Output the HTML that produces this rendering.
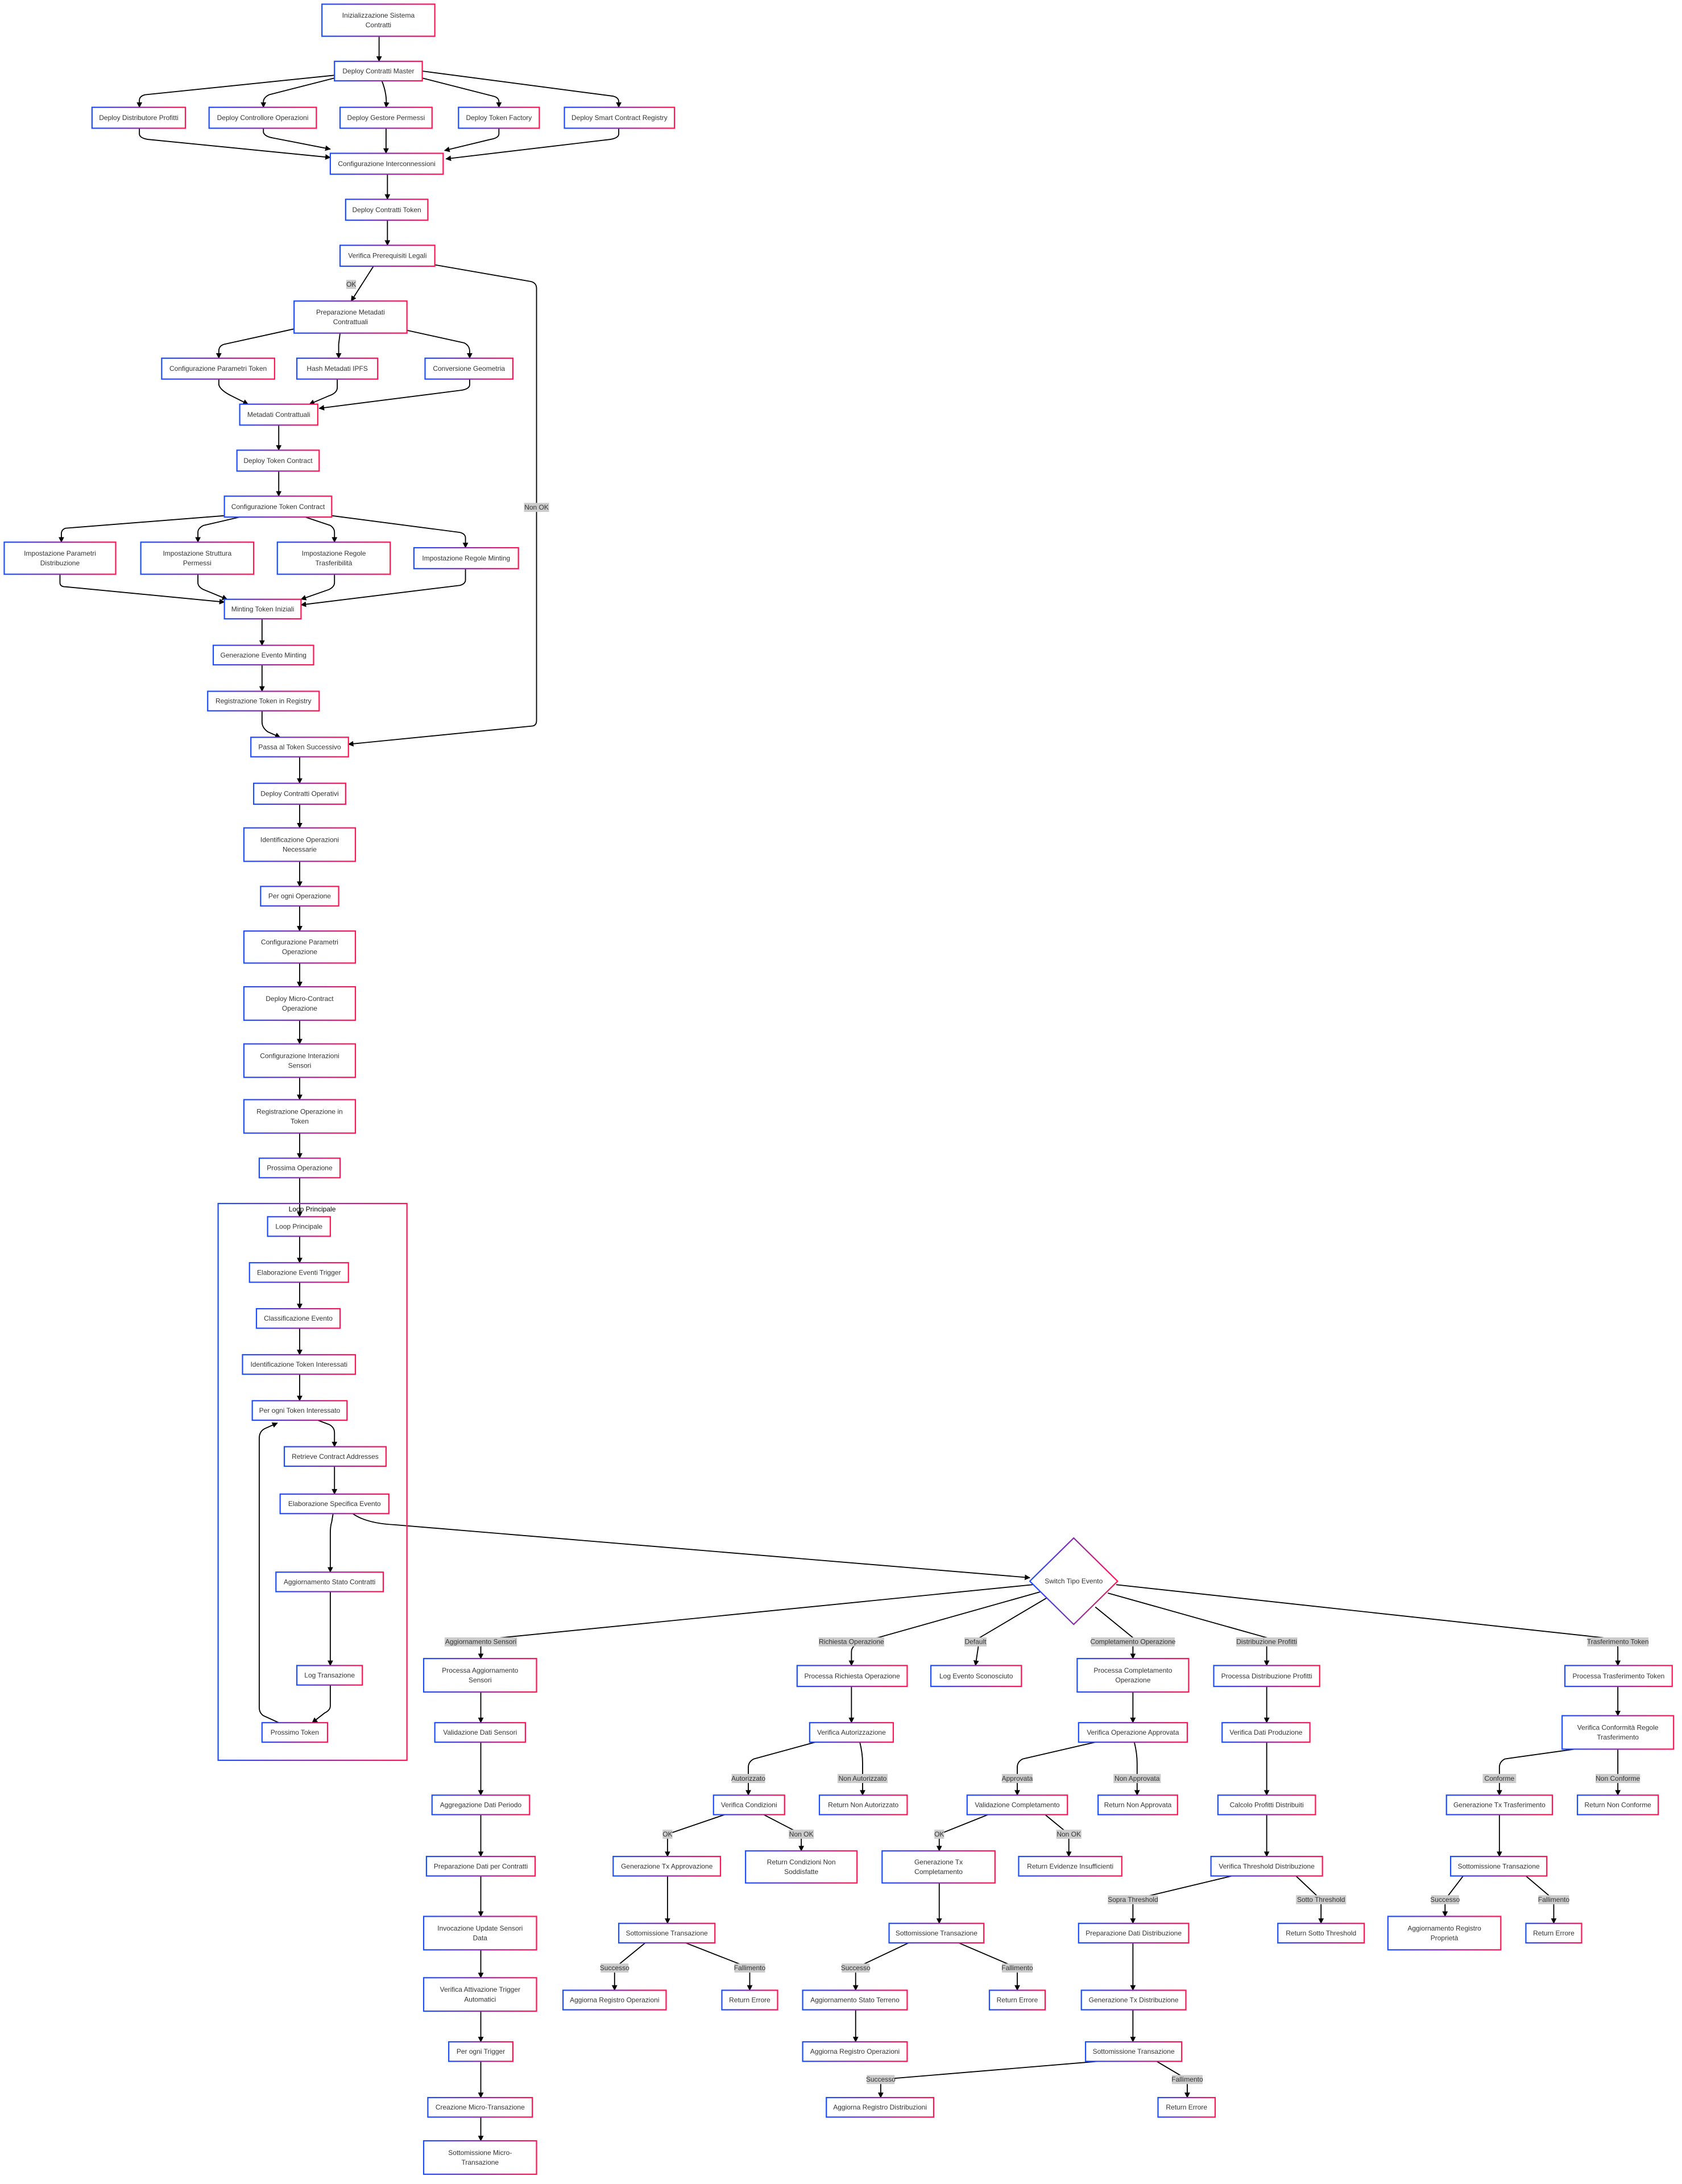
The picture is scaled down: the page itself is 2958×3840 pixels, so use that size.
<!DOCTYPE html>
<html><head><meta charset="utf-8"><style>
html,body{margin:0;padding:0;background:#fff;}
svg{display:block;}
.n{fill:#fff;stroke:url(#g);stroke-width:0.9;}
text{font-family:"Liberation Sans",sans-serif;font-size:4.9px;fill:#333;text-anchor:middle;dominant-baseline:central;}
.e{fill:none;stroke:#000;stroke-width:0.75;marker-end:url(#a);}
.lb{fill:#cccccc;}
</style></head><body>
<svg width="2958" height="3840" viewBox="0 0 1207 1567" xmlns="http://www.w3.org/2000/svg">
<defs>
<linearGradient id="g" x1="0" y1="0" x2="1" y2="0"><stop offset="0" stop-color="#1a4dff"/><stop offset="0.5" stop-color="#8a2aa8"/><stop offset="1" stop-color="#ff1452"/></linearGradient>
<marker id="a" markerUnits="userSpaceOnUse" markerWidth="4" markerHeight="4" refX="3.6" refY="2" orient="auto"><path d="M0,0 L4,2 L0,4 z" fill="#000"/></marker>
</defs>

<!-- edges -->
<path class="e" d="M272,26 L272,44"/>
<path class="e" d="M240,54 L104,68 Q100,69 100,72 L100,77"/>
<path class="e" d="M240,56 L193,68 Q189,70 189,73 L189,77"/>
<path class="e" d="M274,58 Q278,68 277,77"/>
<path class="e" d="M303,56 L354,69 Q358,70 358,73 L358,77"/>
<path class="e" d="M303,51 L440,69 Q444,70 444,73 L444,77"/>
<path class="e" d="M100,92 L100,96 Q100,99 106,100 L237,113"/>
<path class="e" d="M189,92 L189,95 Q190,98 196,99 L237,107"/>
<path class="e" d="M277,92 L277,110"/>
<path class="e" d="M358,92 L358,96 Q358,99 352,100 L319,108"/>
<path class="e" d="M444,92 L444,96 Q444,99 438,100 L320,114"/>
<path class="e" d="M278,125 L278,143"/>
<path class="e" d="M278,158 L278,176"/>
<path class="e" d="M268,191 L252,216"/>
<path class="e" d="M312,190 L381,202 Q385,203 385,207 L385,517 Q385,521 381,521 L250,534"/>
<path class="e" d="M211,236 L161,247 Q157,248 157,252 L157,257"/>
<path class="e" d="M244,239 L243,247 L243,257"/>
<path class="e" d="M292,237 L333,246 Q337,248 337,252 L337,257"/>
<path class="e" d="M157,272 L157,276 Q158,280 166,284 L178,290"/>
<path class="e" d="M242,272 L242,278 Q242,282 236,284 L222,290"/>
<path class="e" d="M337,272 L337,276 Q337,279 331,280 L229,293"/>
<path class="e" d="M200,305 L200,323"/>
<path class="e" d="M200,338 L200,356"/>
<path class="e" d="M161,370 L47,379 Q44,380 44,383 L44,389"/>
<path class="e" d="M172,371 L146,377 Q142,379 142,382 L142,389"/>
<path class="e" d="M219,371 L237,377 Q240,379 240,382 L240,389"/>
<path class="e" d="M238,370 L330,382 Q334,383 334,386 L334,393"/>
<path class="e" d="M43,412 L43,418 Q43,421 47,421 L161,432"/>
<path class="e" d="M142,412 L142,418 Q142,421 146,423 L163,430"/>
<path class="e" d="M240,412 L240,418 Q240,421 236,423 L216,430"/>
<path class="e" d="M334,408 L334,416 Q334,419 330,420 L216,434"/>
<path class="e" d="M188,444 L188,463"/>
<path class="e" d="M188,477 L188,496"/>
<path class="e" d="M188,510 L188,518 Q188,522 192,525 L201,529"/>
<path class="e" d="M215,543 L215,562"/>
<path class="e" d="M215,577 L215,594"/>
<path class="e" d="M215,618 L215,636"/>
<path class="e" d="M215,650 L215,668"/>
<path class="e" d="M215,691 L215,708"/>
<path class="e" d="M215,732 L215,749"/>
<path class="e" d="M215,773 L215,789"/>
<path class="e" d="M215,813 L215,831"/>
<path class="e" d="M215,845 L215,873"/>
<path class="e" d="M215,887 L215,906"/>
<path class="e" d="M215,920 L215,939"/>
<path class="e" d="M215,953 L215,972"/>
<path class="e" d="M215,986 L215,1005"/>
<path class="e" d="M228,1019 L236,1022 Q240,1024 240,1028 L240,1038"/>
<path class="e" d="M240,1052 L240,1072"/>
<path class="e" d="M239,1086 L238,1092 Q237,1095 237,1100 L237,1128"/>
<path class="e" d="M237,1142 L237,1195"/>
<path class="e" d="M237,1209 L237,1224 Q237,1227 233,1229 L224,1236"/>
<path class="e" d="M200,1236 L189,1231 Q186,1229 186,1225 L186,1032 Q186,1027 190,1025 L199,1021"/>
<path class="e" d="M253,1086 Q263,1093 283,1094 L739,1132"/>
<path class="e" d="M741,1137 L360,1175 Q345,1177 345,1182 L345,1190"/>
<path class="e" d="M747,1142 L630,1175 Q611,1178 611,1185 L611,1195"/>
<path class="e" d="M752,1146 L703,1175 L700,1195"/>
<path class="e" d="M786,1153 L813,1175 L813,1190"/>
<path class="e" d="M795,1143 L909,1175 L909,1195"/>
<path class="e" d="M801,1137 L1150,1175 Q1161,1177 1161,1182 L1161,1195"/>
<!-- sensori -->
<path class="e" d="M345,1214 L345,1236"/>
<path class="e" d="M345,1250 L345,1288"/>
<path class="e" d="M345,1302 L345,1332"/>
<path class="e" d="M345,1346 L345,1375"/>
<path class="e" d="M345,1399 L345,1419"/>
<path class="e" d="M345,1443 L345,1465"/>
<path class="e" d="M345,1479 L345,1505"/>
<path class="e" d="M345,1519 L345,1536"/>
<!-- richiesta -->
<path class="e" d="M611,1210 L611,1236"/>
<path class="e" d="M585,1250 L541,1262 Q537,1264 537,1268 L537,1288"/>
<path class="e" d="M617,1250 Q619,1258 619,1265 L619,1288"/>
<path class="e" d="M520,1302 L479,1316 L479,1332"/>
<path class="e" d="M548,1302 L575,1316 L575,1328"/>
<path class="e" d="M479,1346 L479,1380"/>
<path class="e" d="M463,1394 L441,1412 L441,1428"/>
<path class="e" d="M492,1394 L538,1412 L538,1428"/>
<!-- completamento -->
<path class="e" d="M813,1214 L813,1236"/>
<path class="e" d="M786,1250 L734,1262 Q730,1264 730,1268 L730,1288"/>
<path class="e" d="M814,1250 Q816,1258 816,1265 L816,1288"/>
<path class="e" d="M709,1302 L674,1316 L674,1328"/>
<path class="e" d="M750,1302 L767,1316 L767,1332"/>
<path class="e" d="M674,1351 L674,1380"/>
<path class="e" d="M652,1394 L614,1412 L614,1428"/>
<path class="e" d="M688,1394 L730,1412 L730,1428"/>
<path class="e" d="M614,1442 L614,1465"/>
<!-- distribuzione -->
<path class="e" d="M909,1210 L909,1236"/>
<path class="e" d="M909,1250 L909,1288"/>
<path class="e" d="M909,1302 L909,1332"/>
<path class="e" d="M884,1346 L813,1363 L813,1380"/>
<path class="e" d="M930,1346 L948,1363 L948,1380"/>
<path class="e" d="M813,1394 L813,1428"/>
<path class="e" d="M813,1442 L813,1465"/>
<path class="e" d="M788,1479 L632,1492 L632,1505"/>
<path class="e" d="M830,1479 L852,1492 L852,1505"/>
<!-- trasferimento -->
<path class="e" d="M1161,1210 L1161,1231"/>
<path class="e" d="M1130,1255 L1080,1262 Q1076,1264 1076,1268 L1076,1288"/>
<path class="e" d="M1161,1255 L1161,1288"/>
<path class="e" d="M1076,1302 L1076,1332"/>
<path class="e" d="M1050,1346 L1037,1363 L1037,1375"/>
<path class="e" d="M1095,1346 L1115,1363 L1115,1380"/>

<!-- edge labels -->
<rect class="lb" x="248.5" y="200.8" width="7" height="6.5"/><text x="252" y="204">OK</text>
<rect class="lb" x="376" y="360.8" width="18" height="6.5"/><text x="385" y="364">Non OK</text>
<rect class="lb" x="319" y="1174.8" width="52" height="6.5"/><text x="345" y="1178">Aggiornamento Sensori</text>
<rect class="lb" x="587.5" y="1174.8" width="47" height="6.5"/><text x="611" y="1178">Richiesta Operazione</text>
<rect class="lb" x="692" y="1174.8" width="16" height="6.5"/><text x="700" y="1178">Default</text>
<rect class="lb" x="783" y="1174.8" width="60" height="6.5"/><text x="813" y="1178">Completamento Operazione</text>
<rect class="lb" x="887" y="1174.8" width="44" height="6.5"/><text x="909" y="1178">Distribuzione Profitti</text>
<rect class="lb" x="1139" y="1174.8" width="44" height="6.5"/><text x="1161" y="1178">Trasferimento Token</text>
<rect class="lb" x="525" y="1272.8" width="24" height="6.5"/><text x="537" y="1276">Autorizzato</text>
<rect class="lb" x="601" y="1272.8" width="36" height="6.5"/><text x="619" y="1276">Non Autorizzato</text>
<rect class="lb" x="475.5" y="1312.8" width="7" height="6.5"/><text x="479" y="1316">OK</text>
<rect class="lb" x="566" y="1312.8" width="18" height="6.5"/><text x="575" y="1316">Non OK</text>
<rect class="lb" x="431" y="1408.8" width="20" height="6.5"/><text x="441" y="1412">Successo</text>
<rect class="lb" x="527" y="1408.8" width="22" height="6.5"/><text x="538" y="1412">Fallimento</text>
<rect class="lb" x="719" y="1272.8" width="22" height="6.5"/><text x="730" y="1276">Approvata</text>
<rect class="lb" x="799" y="1272.8" width="34" height="6.5"/><text x="816" y="1276">Non Approvata</text>
<rect class="lb" x="670.5" y="1312.8" width="7" height="6.5"/><text x="674" y="1316">OK</text>
<rect class="lb" x="758" y="1312.8" width="18" height="6.5"/><text x="767" y="1316">Non OK</text>
<rect class="lb" x="604" y="1408.8" width="20" height="6.5"/><text x="614" y="1412">Successo</text>
<rect class="lb" x="719" y="1408.8" width="22" height="6.5"/><text x="730" y="1412">Fallimento</text>
<rect class="lb" x="795" y="1359.8" width="36" height="6.5"/><text x="813" y="1363">Sopra Threshold</text>
<rect class="lb" x="930" y="1359.8" width="36" height="6.5"/><text x="948" y="1363">Sotto Threshold</text>
<rect class="lb" x="622" y="1488.8" width="20" height="6.5"/><text x="632" y="1492">Successo</text>
<rect class="lb" x="841" y="1488.8" width="22" height="6.5"/><text x="852" y="1492">Fallimento</text>
<rect class="lb" x="1064" y="1272.8" width="24" height="6.5"/><text x="1076" y="1276">Conforme</text>
<rect class="lb" x="1145" y="1272.8" width="32" height="6.5"/><text x="1161" y="1276">Non Conforme</text>
<rect class="lb" x="1027" y="1359.8" width="20" height="6.5"/><text x="1037" y="1363">Successo</text>
<rect class="lb" x="1104" y="1359.8" width="22" height="6.5"/><text x="1115" y="1363">Fallimento</text>

<!-- subgraph -->
<rect x="156.5" y="863.5" width="135.5" height="399.5" fill="none" stroke="url(#g)" stroke-width="0.9"/>
<text x="224" y="867.5" style="fill:#000">Loop Principale</text>

<!-- nodes -->
<rect class="n" x="231" y="3" width="81" height="23"/><text x="271.5" y="11">Inizializzazione Sistema</text><text x="271.5" y="18">Contratti</text>
<rect class="n" x="240" y="44" width="63" height="14"/><text x="271.5" y="51">Deploy Contratti Master</text>
<rect class="n" x="66" y="77" width="67" height="15"/><text x="99.5" y="84.5">Deploy Distributore Profitti</text>
<rect class="n" x="150" y="77" width="77" height="15"/><text x="188.5" y="84.5">Deploy Controllore Operazioni</text>
<rect class="n" x="244" y="77" width="66" height="15"/><text x="277" y="84.5">Deploy Gestore Permessi</text>
<rect class="n" x="329" y="77" width="58" height="15"/><text x="358" y="84.5">Deploy Token Factory</text>
<rect class="n" x="405" y="77" width="79" height="15"/><text x="444.5" y="84.5">Deploy Smart Contract Registry</text>
<rect class="n" x="237" y="110" width="81" height="15"/><text x="277.5" y="117.5">Configurazione Interconnessioni</text>
<rect class="n" x="248" y="143" width="59" height="15"/><text x="277.5" y="150.5">Deploy Contratti Token</text>
<rect class="n" x="244" y="176" width="68" height="15"/><text x="278" y="183.5">Verifica Prerequisiti Legali</text>
<rect class="n" x="211" y="216" width="81" height="23"/><text x="251.5" y="224">Preparazione Metadati</text><text x="251.5" y="231">Contrattuali</text>
<rect class="n" x="116" y="257" width="81" height="15"/><text x="156.5" y="264.5">Configurazione Parametri Token</text>
<rect class="n" x="213" y="257" width="58" height="15"/><text x="242" y="264.5">Hash Metadati IPFS</text>
<rect class="n" x="305" y="257" width="63" height="15"/><text x="336.5" y="264.5">Conversione Geometria</text>
<rect class="n" x="172" y="290" width="56" height="15"/><text x="200" y="297.5">Metadati Contrattuali</text>
<rect class="n" x="170" y="323" width="59" height="15"/><text x="199.5" y="330.5">Deploy Token Contract</text>
<rect class="n" x="161" y="356" width="77" height="15"/><text x="199.5" y="363.5">Configurazione Token Contract</text>
<rect class="n" x="3" y="389" width="80" height="23"/><text x="43" y="397">Impostazione Parametri</text><text x="43" y="404">Distribuzione</text>
<rect class="n" x="101" y="389" width="81" height="23"/><text x="141.5" y="397">Impostazione Struttura</text><text x="141.5" y="404">Permessi</text>
<rect class="n" x="199" y="389" width="81" height="23"/><text x="239.5" y="397">Impostazione Regole</text><text x="239.5" y="404">Trasferibilità</text>
<rect class="n" x="297" y="393" width="75" height="15"/><text x="334.5" y="400.5">Impostazione Regole Minting</text>
<rect class="n" x="161" y="430" width="55" height="14"/><text x="188.5" y="437">Minting Token Iniziali</text>
<rect class="n" x="153" y="463" width="72" height="14"/><text x="189" y="470">Generazione Evento Minting</text>
<rect class="n" x="149" y="496" width="80" height="14"/><text x="189" y="503">Registrazione Token in Registry</text>
<rect class="n" x="180" y="529" width="70" height="14"/><text x="215" y="536">Passa al Token Successivo</text>
<rect class="n" x="182" y="562" width="66" height="15"/><text x="215" y="569.5">Deploy Contratti Operativi</text>
<rect class="n" x="175" y="594" width="80" height="24"/><text x="215" y="602.5">Identificazione Operazioni</text><text x="215" y="609.5">Necessarie</text>
<rect class="n" x="187" y="636" width="56" height="14"/><text x="215" y="643">Per ogni Operazione</text>
<rect class="n" x="175" y="668" width="80" height="23"/><text x="215" y="676">Configurazione Parametri</text><text x="215" y="683">Operazione</text>
<rect class="n" x="175" y="708" width="80" height="24"/><text x="215" y="716.5">Deploy Micro-Contract</text><text x="215" y="723.5">Operazione</text>
<rect class="n" x="175" y="749" width="80" height="24"/><text x="215" y="757.5">Configurazione Interazioni</text><text x="215" y="764.5">Sensori</text>
<rect class="n" x="175" y="789" width="80" height="24"/><text x="215" y="797.5">Registrazione Operazione in</text><text x="215" y="804.5">Token</text>
<rect class="n" x="186" y="831" width="58" height="14"/><text x="215" y="838">Prossima Operazione</text>
<rect class="n" x="192" y="873" width="45" height="14"/><text x="214.5" y="880">Loop Principale</text>
<rect class="n" x="179" y="906" width="71" height="14"/><text x="214.5" y="913">Elaborazione Eventi Trigger</text>
<rect class="n" x="184" y="939" width="60" height="14"/><text x="214" y="946">Classificazione Evento</text>
<rect class="n" x="174" y="972" width="81" height="14"/><text x="214.5" y="979">Identificazione Token Interessati</text>
<rect class="n" x="181" y="1005" width="68" height="14"/><text x="215" y="1012">Per ogni Token Interessato</text>
<rect class="n" x="204" y="1038" width="73" height="14"/><text x="240.5" y="1045">Retrieve Contract Addresses</text>
<rect class="n" x="201" y="1072" width="78" height="14"/><text x="240" y="1079">Elaborazione Specifica Evento</text>
<rect class="n" x="198" y="1128" width="77" height="14"/><text x="236.5" y="1135">Aggiornamento Stato Contratti</text>
<rect class="n" x="213" y="1195" width="47" height="14"/><text x="236.5" y="1202">Log Transazione</text>
<rect class="n" x="188" y="1236" width="47" height="14"/><text x="211.5" y="1243">Prossimo Token</text>

<!-- diamond -->
<path d="M770.5,1103.5 L802,1134.5 L770.5,1165.5 L739,1134.5 Z" fill="#fff" stroke="url(#g)" stroke-width="0.9"/>
<text x="770.5" y="1134.5">Switch Tipo Evento</text>

<!-- branch nodes -->
<rect class="n" x="304" y="1190" width="81" height="24"/><text x="344.5" y="1198.5">Processa Aggiornamento</text><text x="344.5" y="1205.5">Sensori</text>
<rect class="n" x="572" y="1195" width="79" height="15"/><text x="611.5" y="1202.5">Processa Richiesta Operazione</text>
<rect class="n" x="668" y="1195" width="65" height="15"/><text x="700.5" y="1202.5">Log Evento Sconosciuto</text>
<rect class="n" x="773" y="1190" width="80" height="24"/><text x="813" y="1198.5">Processa Completamento</text><text x="813" y="1205.5">Operazione</text>
<rect class="n" x="871" y="1195" width="76" height="15"/><text x="909" y="1202.5">Processa Distribuzione Profitti</text>
<rect class="n" x="1123" y="1195" width="77" height="15"/><text x="1161.5" y="1202.5">Processa Trasferimento Token</text>

<rect class="n" x="312" y="1236" width="65" height="14"/><text x="344.5" y="1243">Validazione Dati Sensori</text>
<rect class="n" x="310" y="1288" width="70" height="14"/><text x="345" y="1295">Aggregazione Dati Periodo</text>
<rect class="n" x="306" y="1332" width="78" height="14"/><text x="345" y="1339">Preparazione Dati per Contratti</text>
<rect class="n" x="304" y="1375" width="81" height="24"/><text x="344.5" y="1383.5">Invocazione Update Sensori</text><text x="344.5" y="1390.5">Data</text>
<rect class="n" x="304" y="1419" width="81" height="24"/><text x="344.5" y="1427.5">Verifica Attivazione Trigger</text><text x="344.5" y="1434.5">Automatici</text>
<rect class="n" x="322" y="1465" width="46" height="14"/><text x="345" y="1472">Per ogni Trigger</text>
<rect class="n" x="307" y="1505" width="75" height="14"/><text x="344.5" y="1512">Creazione Micro-Transazione</text>
<rect class="n" x="304" y="1536" width="81" height="24"/><text x="344.5" y="1544.5">Sottomissione Micro-</text><text x="344.5" y="1551.5">Transazione</text>

<rect class="n" x="581" y="1236" width="60" height="14"/><text x="611" y="1243">Verifica Autorizzazione</text>
<rect class="n" x="512" y="1288" width="51" height="14"/><text x="537.5" y="1295">Verifica Condizioni</text>
<rect class="n" x="588" y="1288" width="63" height="14"/><text x="619.5" y="1295">Return Non Autorizzato</text>
<rect class="n" x="440" y="1332" width="77" height="14"/><text x="478.5" y="1339">Generazione Tx Approvazione</text>
<rect class="n" x="535" y="1328" width="80" height="23"/><text x="575" y="1336">Return Condizioni Non</text><text x="575" y="1343">Soddisfatte</text>
<rect class="n" x="444" y="1380" width="69" height="14"/><text x="478.5" y="1387">Sottomissione Transazione</text>
<rect class="n" x="404" y="1428" width="74" height="14"/><text x="441" y="1435">Aggiorna Registro Operazioni</text>
<rect class="n" x="518" y="1428" width="40" height="14"/><text x="538" y="1435">Return Errore</text>

<rect class="n" x="774" y="1236" width="78" height="14"/><text x="813" y="1243">Verifica Operazione Approvata</text>
<rect class="n" x="694" y="1288" width="72" height="14"/><text x="730" y="1295">Validazione Completamento</text>
<rect class="n" x="788" y="1288" width="57" height="14"/><text x="816.5" y="1295">Return Non Approvata</text>
<rect class="n" x="633" y="1328" width="81" height="23"/><text x="673.5" y="1336">Generazione Tx</text><text x="673.5" y="1343">Completamento</text>
<rect class="n" x="731" y="1332" width="74" height="14"/><text x="768" y="1339">Return Evidenze Insufficienti</text>
<rect class="n" x="638" y="1380" width="68" height="14"/><text x="672" y="1387">Sottomissione Transazione</text>
<rect class="n" x="576" y="1428" width="75" height="14"/><text x="613.5" y="1435">Aggiornamento Stato Terreno</text>
<rect class="n" x="710" y="1428" width="40" height="14"/><text x="730" y="1435">Return Errore</text>
<rect class="n" x="576" y="1465" width="75" height="14"/><text x="613.5" y="1472">Aggiorna Registro Operazioni</text>

<rect class="n" x="877" y="1236" width="63" height="14"/><text x="908.5" y="1243">Verifica Dati Produzione</text>
<rect class="n" x="874" y="1288" width="70" height="14"/><text x="909" y="1295">Calcolo Profitti Distribuiti</text>
<rect class="n" x="869" y="1332" width="80" height="14"/><text x="909" y="1339">Verifica Threshold Distribuzione</text>
<rect class="n" x="774" y="1380" width="79" height="14"/><text x="813.5" y="1387">Preparazione Dati Distribuzione</text>
<rect class="n" x="917" y="1380" width="62" height="14"/><text x="948" y="1387">Return Sotto Threshold</text>
<rect class="n" x="776" y="1428" width="75" height="14"/><text x="813.5" y="1435">Generazione Tx Distribuzione</text>
<rect class="n" x="779" y="1465" width="69" height="14"/><text x="813.5" y="1472">Sottomissione Transazione</text>
<rect class="n" x="593" y="1505" width="77" height="14"/><text x="631.5" y="1512">Aggiorna Registro Distribuzioni</text>
<rect class="n" x="831" y="1505" width="41" height="14"/><text x="851.5" y="1512">Return Errore</text>

<rect class="n" x="1121" y="1231" width="80" height="24"/><text x="1161" y="1239.5">Verifica Conformità Regole</text><text x="1161" y="1246.5">Trasferimento</text>
<rect class="n" x="1038" y="1288" width="76" height="14"/><text x="1076" y="1295">Generazione Tx Trasferimento</text>
<rect class="n" x="1132" y="1288" width="58" height="14"/><text x="1161" y="1295">Return Non Conforme</text>
<rect class="n" x="1041" y="1332" width="69" height="14"/><text x="1075.5" y="1339">Sottomissione Transazione</text>
<rect class="n" x="996" y="1375" width="81" height="24"/><text x="1036.5" y="1383.5">Aggiornamento Registro</text><text x="1036.5" y="1390.5">Proprietà</text>
<rect class="n" x="1095" y="1380" width="40" height="14"/><text x="1115" y="1387">Return Errore</text>
</svg>
</body></html>
